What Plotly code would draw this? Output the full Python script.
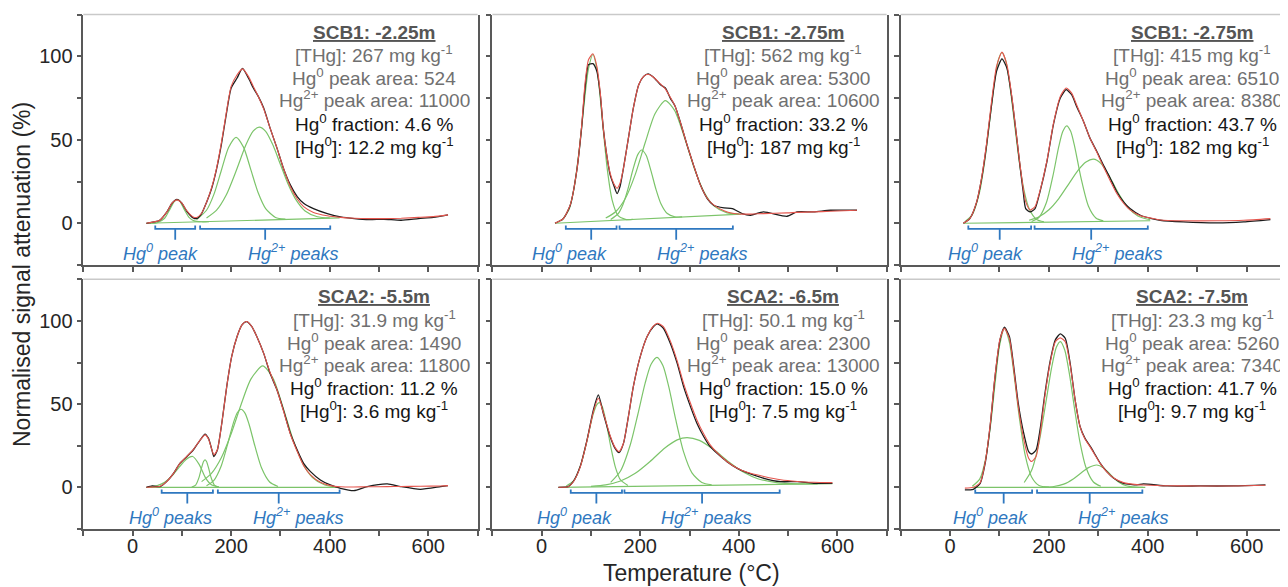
import plotly.graph_objects as go

# ---------------- data ----------------
titles = ["SCB1: -2.25m", "SCB1: -2.75m", "SCB1: -2.75m", "SCA2: -5.5m", "SCA2: -6.5m", "SCA2: -7.5m"]
thg = ["267", "562", "415", "31.9", "50.1", "23.3"]
hg0_area = ["524", "5300", "6510", "1490", "2300", "5260"]
hg2_area = ["11000", "10600", "8380", "11800", "13000", "7340"]
hg0_frac = ["4.6", "33.2", "43.7", "11.2", "15.0", "41.7"]
hg0_conc = ["12.2", "187", "182", "3.6", "7.5", "9.7"]
hg0_names = ["Hg<sup>0</sup> peak", "Hg<sup>0</sup> peak", "Hg<sup>0</sup> peak",
             "Hg<sup>0</sup> peaks", "Hg<sup>0</sup> peak", "Hg<sup>0</sup> peak"]
hg2_names = ["Hg<sup>2+</sup> peaks"] * 6

# integration ranges (degC) of the Hg0 and Hg2+ peak groups
hg0_rng = [[46, 127], [49, 152], [37, 164], [59, 163], [59, 163], [51, 166]]
hg2_rng = [[137, 401], [158, 388], [171, 400], [173, 420], [168, 483], [176, 389]]

x_ticks = [-100, 0, 100, 200, 300, 400, 500, 600, 700]
x_tick_text = ["", "0", "", "200", "", "400", "", "600", ""]
y_ticks = [-25, 0, 25, 50, 75, 100, 125]
y_tick_text = ["", "0", "", "50", "", "100", ""]

# panel 1: SCB1 -2.25 m
t1 = [28, 55, 70, 80, 90, 100, 110, 123, 130, 140, 150, 160, 170, 180, 190, 200, 212, 223, 235, 245,
      255, 266, 279, 293, 306, 320, 334, 347, 367, 395, 422, 450, 480, 510, 545, 580, 610, 640]
meas1 = [0, 1.8, 7, 12, 14.3, 12, 7.2, 3.2, 2.8, 5.8, 12.5, 20.5, 32, 47, 65, 81, 87, 92.8, 87, 81,
         76, 69, 57, 45, 33, 23, 16, 12, 8.8, 5.8, 3.8, 2.8, 2.2, 2.4, 1.8, 2.8, 3.5, 5]
fit1 = [0, 1.8, 7, 12, 14, 12, 7.5, 3.8, 3.5, 6, 12.5, 21, 32.5, 48, 66, 82, 89, 92.5, 88, 82,
        76, 68.5, 57, 45, 33, 22, 14.5, 10, 6.5, 4.5, 3.5, 3, 2.8, 2.8, 3, 3.5, 4, 5]
base1_t = [28, 420]
base1_y = [0, 3.2]
c1a_t = [35, 50, 65, 75, 85, 90, 95, 105, 115, 125, 140, 155]
c1a_y = [0.1, 0.4, 3.0, 8.0, 13.2, 14.0, 13.7, 8.2, 3.4, 1.4, 0.9, 1.0]
c1b_t = [130, 150, 165, 180, 195, 210, 225, 240, 255, 270, 290, 310]
c1b_y = [2.2, 7.8, 17.3, 31.6, 45.5, 51.5, 45.6, 32.0, 18.1, 8.8, 3.5, 2.5]
c1c_t = [150, 170, 190, 210, 230, 245, 257, 270, 285, 300, 315, 330, 350, 375, 400]
c1c_y = [3.2, 7.7, 16.9, 31.3, 47.0, 55.3, 57.6, 55.1, 46.7, 35.2, 23.8, 14.8, 7.4, 3.9, 3.2]

# panel 2: SCB1 -2.75 m
t2 = [27, 44, 58, 71, 81, 88, 95, 104, 112, 119, 125, 132, 139, 146, 153, 159, 166, 176, 186, 197,
      207, 216, 227, 241, 251, 261, 271, 281, 295, 308, 322, 336, 349, 370, 387, 407, 424, 450, 498, 518,
      552, 586, 640]
meas2 = [0, 2.8, 10.8, 31, 57, 81, 95, 95.6, 91, 77, 57, 41, 29, 23, 17.8, 22, 33, 51, 69, 83,
         88, 89.5, 87.5, 83, 81, 75, 70, 61, 47, 35, 23, 14.8, 10.8, 9.2, 8.8, 5.8, 4.8, 6.8, 4.2, 6.8,
         6.8, 7.8, 7.8]
fit2 = [0, 2.8, 11, 31, 58, 84, 98, 101.5, 94, 78, 57, 41, 30, 24, 21, 24, 33, 51, 69, 83,
        88, 89.3, 87.5, 83.5, 80.5, 75.5, 70, 61, 47, 35, 23, 15, 11, 7.5, 6, 5.5, 5.5, 5.8, 6.2, 6.5,
        6.8, 7.2, 7.8]
base2_t = [27, 405]
base2_y = [0, 5.5]
c2a_t = [40, 55, 65, 75, 85, 95, 104, 113, 123, 133, 143, 155, 170, 185]
c2a_y = [1.4, 7.9, 19.9, 41.0, 68.5, 92.6, 101.1, 90.7, 62.1, 32.7, 13.9, 4.6, 2.3, 2.3]
c2b_t = [140, 155, 165, 175, 185, 195, 203, 212, 222, 232, 242, 255, 270, 285]
c2b_y = [2.3, 5.7, 11.3, 20.5, 31.9, 41.1, 43.9, 40.7, 31.2, 20.3, 11.7, 5.8, 3.9, 3.8]
c2c_t = [130, 150, 170, 190, 210, 230, 251, 270, 290, 310, 330, 350, 375, 400]
c2c_y = [3.1, 6.9, 15.0, 29.3, 48.2, 65.6, 73.5, 67.5, 51.2, 32.7, 18.4, 10.3, 6.4, 5.6]

# panel 3: SCB1 -2.75 m (second)
t3 = [27, 40, 54, 64, 74, 84, 94, 105, 115, 125, 135, 142, 148, 153, 162, 172, 182, 196, 209, 223,
      235, 246, 256, 270, 283, 297, 310, 324, 337, 351, 364, 385, 408, 425, 472, 540, 594, 648]
meas3 = [0, 2.8, 12.8, 27, 47, 71, 91, 98.5, 93, 75, 51, 33, 19, 8.8, 6.8, 8.8, 19, 37, 59, 75,
         80, 77, 70, 61, 51, 43, 35, 27, 19, 12.8, 8.8, 4.8, 2.8, 1.8, 0.8, 0.2, 0.8, 2.2]
fit3 = [0, 2.8, 13, 27.5, 48, 73, 94, 102.5, 95, 76, 51, 34, 21, 13, 8, 10, 19.5, 37.5, 59.5, 76,
        81, 78, 71, 61, 51, 42.5, 34, 25.5, 18, 12, 8, 4.5, 3, 2, 1.5, 1.5, 1.8, 2.8]
base3_t = [27, 405]
base3_y = [0, 1.5]
c3a_t = [30, 45, 60, 70, 80, 90, 98, 105, 112, 120, 130, 140, 150, 160, 175, 190]
c3a_y = [0.9, 5.2, 19.0, 37.0, 60.8, 84.9, 98.2, 102.3, 98.2, 84.9, 60.9, 37.1, 19.2, 8.7, 2.3, 0.9]
c3b_t = [165, 180, 195, 208, 220, 228, 236, 244, 252, 265, 280, 295, 310]
c3b_y = [1.05, 3.6, 12.4, 28.2, 46.0, 55.0, 58.4, 55.1, 46.1, 27.0, 10.2, 3.2, 1.4]
c3c_t = [160, 180, 200, 220, 240, 260, 275, 290, 305, 320, 340, 360, 380, 405]
c3c_y = [1.8, 3.9, 8.1, 14.8, 23.5, 32.1, 36.7, 38.4, 35.9, 29.4, 18.3, 9.4, 4.4, 2.1]

# panel 4: SCA2 -5.5 m
t4 = [28, 40, 56, 69, 83, 96, 110, 123, 137, 147, 154, 161, 165, 172, 181, 191, 201, 212, 222, 231,
      242, 252, 266, 279, 293, 306, 320, 334, 347, 361, 381, 401, 422, 449, 476, 517, 544, 584, 625, 640]
meas4 = [0, 0.8, 0.4, 3.4, 8.4, 14.4, 18.4, 22.4, 28.4, 32, 29.4, 22.4, 18.4, 22.4, 38.5, 60.5, 78.5, 90.6, 97.6, 99.6,
         96.6, 90.6, 80.5, 68.5, 58.5, 46.5, 32.5, 22.4, 14.4, 9.4, 4.4, 1.4, -0.6, -2, 0.4, 2, 0.4, -1.2, 0.4, 1]
fit4 = [0, 0.1, 0.6, 3.4, 8.4, 14.4, 18.6, 22.6, 28.4, 31.5, 29, 22.4, 19.5, 22.6, 38.5, 60.5, 78.5, 90.6, 97.6, 99.6,
        96.6, 90.6, 80.5, 69, 58.5, 46, 32, 21.5, 13, 7.5, 3, 1, 0.3, 0.2, 0.3, 0.4, 0.5, 0.6, 0.8, 1]
base4_t = [28, 420]
base4_y = [0, 0]
c4a_t = [35, 50, 65, 80, 95, 108, 122, 135, 148, 160, 175]
c4a_y = [0.3, 1.0, 3.0, 6.9, 12.3, 16.6, 18.5, 13.8, 5.7, 1.5, 0.15]
c4b_t = [120, 128, 135, 140, 144, 147, 150, 154, 159, 166, 175]
c4b_y = [0.1, 1.35, 6.1, 11.8, 15.5, 16.5, 15.5, 11.8, 6.1, 1.35, 0.07]
c4c_t = [150, 165, 180, 192, 205, 213, 220, 228, 236, 248, 262, 278, 295]
c4c_y = [0.9, 4.2, 13.0, 25.0, 39.2, 45.1, 46.9, 44.6, 38.2, 25.0, 11.4, 3.2, 0.5]
c4d_t = [140, 160, 180, 200, 220, 240, 264, 285, 305, 325, 345, 365, 390, 415]
c4d_y = [3.4, 8.4, 17.8, 32.2, 49.6, 65.0, 73.0, 65.5, 48.2, 29.1, 14.5, 5.9, 1.4, 0.3]

# panel 5: SCA2 -6.5 m
t5 = [34, 54, 64, 78, 92, 105, 115, 125, 139, 149, 157, 166, 176, 186, 200, 214, 227, 235, 247, 261,
      275, 288, 302, 315, 329, 342, 356, 376, 397, 417, 451, 485, 519, 552, 590]
meas5 = [0, 0.4, 3.4, 12.4, 28.4, 46.5, 55.5, 44.5, 30.4, 23.4, 20.8, 26.4, 42.5, 60.5, 78.5, 90.6, 96.6, 98.2, 95.6, 86.6,
         74.5, 60.5, 48.5, 38.5, 30.4, 24.4, 20.4, 15.4, 11.4, 8.8, 5.4, 3.4, 3.4, 2.4, 2.4]
fit5 = [0, 0.4, 3.2, 12, 28, 45.5, 53.5, 45, 31, 24, 21.5, 26.5, 42.5, 60.5, 78.5, 90.6, 97, 98.6, 96.5, 88,
        76, 62.5, 50.5, 40.5, 32, 25.5, 20.8, 15.5, 11.5, 9, 6.5, 4.5, 3.5, 3, 2.8]
base5_t = [34, 590]
base5_y = [0, 2.2]
c5a_t = [50, 65, 80, 92, 104, 112, 117, 123, 131, 140, 150, 160, 175]
c5a_y = [0.8, 4.0, 14.1, 28.2, 43.4, 49.7, 50.9, 48.4, 38.9, 24.7, 11.7, 4.4, 1.1]
c5b_t = [140, 160, 180, 195, 210, 222, 234, 246, 258, 272, 288, 305, 325, 345]
c5b_y = [3.0, 9.8, 25.7, 43.6, 62.6, 73.9, 78.1, 73.2, 60.3, 40.8, 21.3, 8.7, 2.9, 1.5]
c5c_t = [100, 130, 160, 190, 220, 250, 275, 295, 320, 350, 380, 410, 440, 480, 520, 560]
c5c_y = [0.6, 1.5, 3.8, 8.4, 15.5, 23.6, 28.5, 29.9, 28.2, 22.5, 15.2, 9.0, 5.0, 2.7, 2.1, 2.1]

# panel 6: SCA2 -7.5 m
t6 = [30, 47, 61, 71, 81, 91, 101, 110, 120, 128, 138, 149, 159, 165, 174, 182, 192, 203, 213, 223,
      233, 243, 253, 263, 273, 284, 294, 304, 317, 331, 351, 378, 391, 439, 506, 574, 638]
meas6 = [-1.6, -1.2, 2.4, 14.4, 36.5, 66.5, 88.6, 96.2, 90.6, 74.5, 50.5, 32.5, 21.4, 20, 22.4, 34.5, 56.5, 76.5, 88.6, 92.2,
         89.6, 74.5, 52.5, 36.5, 29.4, 24.4, 19.4, 14.4, 9.4, 5.4, 2.4, 1.4, 2, 0.8, 0.8, 0.8, 1.4]
fit6 = [-0.5, 0, 2.8, 15, 37, 67, 89, 95.5, 89.5, 73, 48.5, 29, 17.5, 15.5, 18.5, 31.5, 55, 75.5, 87.5, 89.8,
        87.5, 73.5, 52.5, 36.5, 29, 24, 19, 14.2, 9.2, 5.6, 2.8, 1.6, 1.4, 0.9, 0.8, 0.8, 1.2]
base6_t = [47, 390]
base6_y = [0, 0]
c6a_t = [45, 60, 72, 82, 92, 100, 110, 120, 130, 140, 152, 165, 180, 200]
c6a_y = [0.6, 4.9, 17.1, 37.6, 65.0, 84.8, 95.5, 87.2, 66.5, 42.3, 19.3, 6.2, 1.1, 0.1]
c6b_t = [150, 165, 180, 195, 205, 215, 223, 232, 242, 252, 262, 275, 290, 305]
c6b_y = [2.9, 10.2, 26.9, 53.1, 71.2, 84.1, 87.6, 82.5, 67.1, 47.0, 28.4, 11.9, 3.2, 0.6]
c6c_t = [190, 210, 230, 250, 265, 280, 297, 310, 325, 340, 355, 375, 395]
c6c_y = [0.1, 0.5, 1.9, 5.2, 8.6, 11.8, 13.4, 11.8, 7.5, 3.4, 1.1, 0.15, 0]

# ---------------- assembly ----------------
temps = [t1, t2, t3, t4, t5, t6]
meas = [meas1, meas2, meas3, meas4, meas5, meas6]
fits = [fit1, fit2, fit3, fit4, fit5, fit6]
bases = [(base1_t, base1_y), (base2_t, base2_y), (base3_t, base3_y),
         (base4_t, base4_y), (base5_t, base5_y), (base6_t, base6_y)]
comps = [
    [(c1a_t, c1a_y), (c1b_t, c1b_y), (c1c_t, c1c_y)],
    [(c2a_t, c2a_y), (c2b_t, c2b_y), (c2c_t, c2c_y)],
    [(c3a_t, c3a_y), (c3b_t, c3b_y), (c3c_t, c3c_y)],
    [(c4a_t, c4a_y), (c4b_t, c4b_y), (c4c_t, c4c_y), (c4d_t, c4d_y)],
    [(c5a_t, c5a_y), (c5b_t, c5b_y), (c5c_t, c5c_y)],
    [(c6a_t, c6a_y), (c6b_t, c6b_y), (c6c_t, c6c_y)],
]

# ---------------- layout / style ----------------
# the page body has an 8px margin, so the figure is 8px smaller and all
# target pixel positions are shifted by that offset
OFF = 8
W, H = 1288 - OFF, 587 - OFF
FONT = "Arial, 'Liberation Sans', sans-serif"
COL_PX = [(83.3, 477.6), (492.4, 886.6), (900.6, 1288.0)]
ROW_PX = [(14.6, 265.0), (279.3, 528.9)]
XRANGE = [[-100, 700], [-100, 700], [-100, 683.6]]
YRANGE = [-25, 125]
GREEN = "#7cc46a"
RED = "#e5564e"
BLACK = "#1c1c1c"
BLUE = "#2f78c0"
AXIS = "#595959"
TEXT_Y = [114.5, 101.1, 87.6, 74.2, 60.1, 46.3]
TEXT_X = 490
LBL0_X = [56, 57, 72, 76, 66, 82]
LBL2_X = [325, 325, 338, 336, 334, 349]
BR_LINE, BR_END, BR_TICK, BR_LBL = -3.3, -1.3, -9.8, -17.6


def fx(px):
    return (px - OFF) / W


def fy(py):
    return 1 - (py - OFF) / H


fig = go.Figure()
layout = dict(
    width=W, height=H, margin=dict(l=0, r=0, t=0, b=0, pad=0),
    paper_bgcolor="white", plot_bgcolor="white", showlegend=False,
    font=dict(family=FONT, color="#262626"),
)
annotations = []
shapes = []

for i in range(6):
    r, c = divmod(i, 3)
    n = "" if i == 0 else str(i + 1)
    xr, yr = "x" + n, "y" + n

    layout["xaxis" + n] = dict(
        domain=[fx(COL_PX[c][0]), min(1.0, fx(COL_PX[c][1]))], range=XRANGE[c], anchor=yr,
        tickmode="array", tickvals=x_ticks,
        ticktext=x_tick_text if r == 1 else [""] * len(x_ticks),
        ticks="outside", ticklen=5, tickwidth=1.5, tickcolor=AXIS,
        showline=True, linecolor=AXIS, linewidth=1.5,
        showgrid=False, zeroline=False, ticklabelstandoff=-7,
        tickfont=dict(size=20, color="#262626", family=FONT),
    )
    layout["yaxis" + n] = dict(
        domain=[fy(ROW_PX[r][1]), fy(ROW_PX[r][0])], range=YRANGE, anchor=xr,
        tickmode="array", tickvals=y_ticks,
        ticktext=y_tick_text if c == 0 else [""] * len(y_ticks),
        ticks="outside", ticklen=5, tickwidth=1.5, tickcolor=AXIS,
        showline=True, linecolor=AXIS, linewidth=1.5, mirror=(c < 2),
        showgrid=False, zeroline=False,
        tickfont=dict(size=20, color="#262626", family=FONT),
    )
    # light top frame line
    shapes.append(dict(type="line", xref=xr + " domain", yref=yr + " domain",
                       x0=0, x1=1, y0=1, y1=1, line=dict(color="#c9c9c9", width=1.5)))

    # baseline and fitted components
    bt, by = bases[i]
    fig.add_trace(go.Scatter(x=bt, y=by, mode="lines", xaxis=xr, yaxis=yr,
                             line=dict(color=GREEN, width=1.2)))
    for ct, cy in comps[i]:
        fig.add_trace(go.Scatter(x=ct, y=cy, mode="lines", xaxis=xr, yaxis=yr,
                                 line=dict(color=GREEN, width=1.2, shape="spline", smoothing=0.7)))
    # measured and fit
    fig.add_trace(go.Scatter(x=temps[i], y=meas[i], mode="lines", xaxis=xr, yaxis=yr,
                             line=dict(color=BLACK, width=1.3, shape="spline", smoothing=0.6)))
    fig.add_trace(go.Scatter(x=temps[i], y=fits[i], mode="lines", xaxis=xr, yaxis=yr,
                             line=dict(color=RED, width=1.1, shape="spline", smoothing=0.6)))

    # brackets
    for rng in (hg0_rng[i], hg2_rng[i]):
        a, b = rng
        mid = (a + b) / 2
        fig.add_trace(go.Scatter(x=[a, a, b, b], y=[BR_END, BR_LINE, BR_LINE, BR_END],
                                 mode="lines", xaxis=xr, yaxis=yr,
                                 line=dict(color=BLUE, width=1.8)))
        fig.add_trace(go.Scatter(x=[mid, mid], y=[BR_LINE, BR_TICK],
                                 mode="lines", xaxis=xr, yaxis=yr,
                                 line=dict(color=BLUE, width=1.8)))
    annotations.append(dict(x=LBL0_X[i], y=BR_LBL, xref=xr, yref=yr, showarrow=False,
                            xanchor="center", yanchor="middle",
                            text="<i>" + hg0_names[i] + "</i>",
                            font=dict(size=18, color=BLUE, family=FONT)))
    annotations.append(dict(x=LBL2_X[i], y=BR_LBL, xref=xr, yref=yr, showarrow=False,
                            xanchor="center", yanchor="middle",
                            text="<i>" + hg2_names[i] + "</i>",
                            font=dict(size=18, color=BLUE, family=FONT)))

    # text block
    lines = [
        ("<u><b>" + titles[i] + "</b></u>", "#555555"),
        ("[THg]: " + thg[i] + " mg kg<sup>-1</sup>", "#707070"),
        ("Hg<sup>0</sup> peak area: " + hg0_area[i], "#707070"),
        ("Hg<sup>2+</sup> peak area: " + hg2_area[i], "#707070"),
        ("Hg<sup>0</sup> fraction: " + hg0_frac[i] + " %", "#161616"),
        ("[Hg<sup>0</sup>]: " + hg0_conc[i] + " mg kg<sup>-1</sup>", "#161616"),
    ]
    for (txt, col), ty in zip(lines, TEXT_Y):
        annotations.append(dict(x=TEXT_X, y=ty, xref=xr, yref=yr, showarrow=False,
                                xanchor="center", yanchor="middle", text=txt,
                                font=dict(size=19, color=col, family=FONT)))

annotations.append(dict(x=fx(22), y=fy(275), xref="paper", yref="paper", showarrow=False,
                        xanchor="center", yanchor="middle",
                        text="Normalised signal attenuation (%)", textangle=-90,
                        font=dict(size=23, color="#262626", family=FONT)))
annotations.append(dict(x=fx(691), y=fy(573), xref="paper", yref="paper", showarrow=False,
                        xanchor="center", yanchor="middle",
                        text="Temperature (°C)",
                        font=dict(size=23, color="#262626", family=FONT)))

layout["annotations"] = annotations
layout["shapes"] = shapes
fig.update_layout(**layout)
fig.write_html("out.html")
